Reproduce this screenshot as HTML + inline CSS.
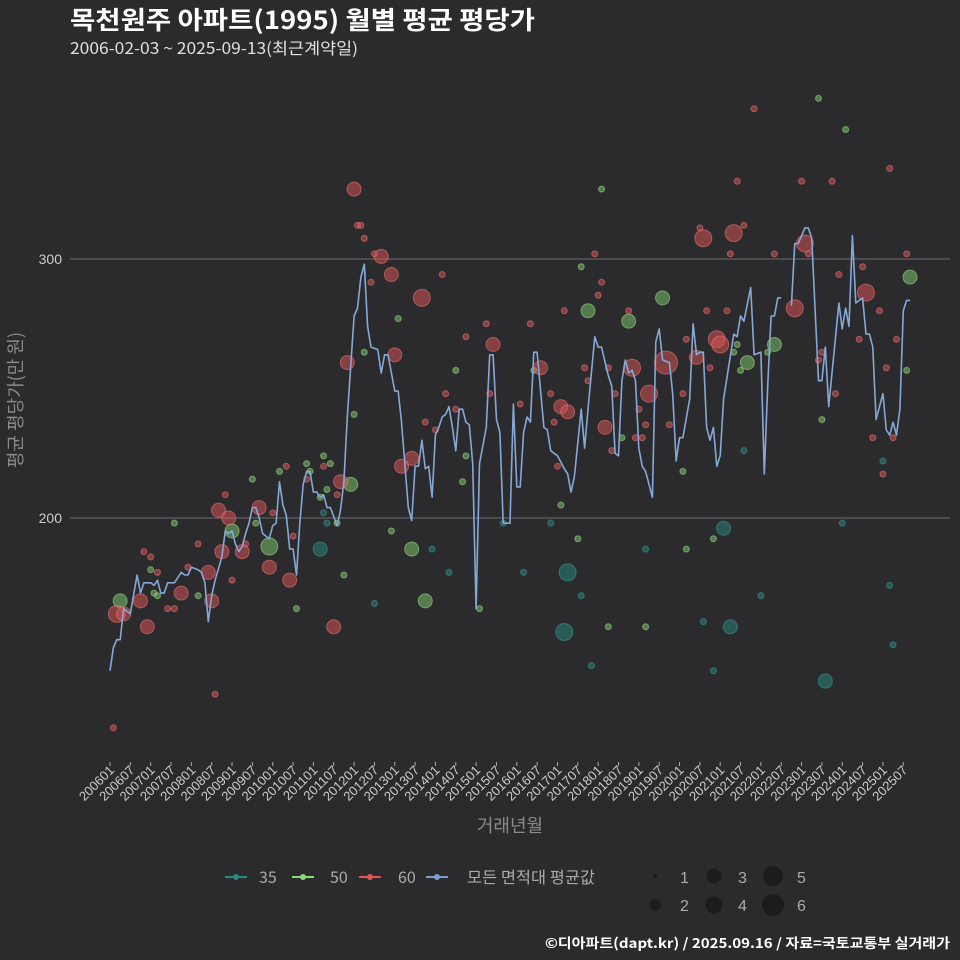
<!DOCTYPE html>
<html><head><meta charset="utf-8"><style>
html,body{margin:0;padding:0;background:#2b2b2d;}
svg{display:block;font-family:"Liberation Sans","Noto Sans CJK KR",sans-serif;}
</style></head><body>
<svg id="chart" width="960" height="960" viewBox="0 0 960 960">
<rect x="0" y="0" width="960" height="960" fill="#2b2b2d"/>
<text x="70" y="29" fill="#ffffff" font-size="25" font-weight="bold" textLength="465" lengthAdjust="spacingAndGlyphs" font-family="'Noto Sans CJK KR',sans-serif">목천원주 아파트(1995) 월별 평균 평당가</text>
<text x="70" y="54" fill="#e0e0e0" font-size="16" textLength="288" lengthAdjust="spacingAndGlyphs" font-family="'Noto Sans CJK KR',sans-serif">2006-02-03 ~ 2025-09-13(최근계약일)</text>
<g id="grid"></g>
<g id="marks"></g>
<g id="xaxis"></g>
<text transform="translate(22,400) rotate(-90)" text-anchor="middle" fill="#8a8a8a" font-size="18" font-family="'Noto Sans CJK KR',sans-serif">평균 평당가(만 원)</text>
<text x="510" y="832" text-anchor="middle" fill="#8a8a8a" font-size="18" font-family="'Noto Sans CJK KR',sans-serif">거래년월</text>
<g font-size="16" fill="#aaaaaa" font-family="'Noto Sans CJK KR',sans-serif">
 <g><line x1="225" y1="877" x2="247" y2="877" stroke="#2a8a80" stroke-width="2"/><circle cx="236" cy="877" r="3" fill="#2a8a80"/><text x="259" y="883">35</text></g>
 <g><line x1="292" y1="877" x2="314" y2="877" stroke="#8ad878" stroke-width="2"/><circle cx="303" cy="877" r="3" fill="#8ad878"/><text x="330" y="883">50</text></g>
 <g><line x1="359" y1="877" x2="381" y2="877" stroke="#e05555" stroke-width="2"/><circle cx="370" cy="877" r="3" fill="#e05555"/><text x="398" y="883">60</text></g>
 <g><line x1="426" y1="877" x2="448" y2="877" stroke="#7f9cc8" stroke-width="2"/><circle cx="437" cy="877" r="3" fill="#7f9cc8"/><text x="467" y="883" textLength="128" lengthAdjust="spacingAndGlyphs">모든 면적대 평균값</text></g>
</g>
<g font-size="16" fill="#aaaaaa">
 <circle cx="655" cy="876" r="2" fill="#1c1c1e"/><text x="680" y="883">1</text>
 <circle cx="714" cy="876" r="7.5" fill="#1c1c1e"/><text x="738" y="883">3</text>
 <circle cx="773" cy="876" r="10" fill="#1c1c1e"/><text x="797" y="883">5</text>
 <circle cx="655" cy="905" r="5.5" fill="#1c1c1e"/><text x="680" y="911">2</text>
 <circle cx="714" cy="905" r="8.5" fill="#1c1c1e"/><text x="738" y="911">4</text>
 <circle cx="773" cy="905" r="11" fill="#1c1c1e"/><text x="797" y="911">6</text>
</g>
<text x="545" y="948" fill="#ffffff" font-size="13.5" font-weight="bold" textLength="405" lengthAdjust="spacingAndGlyphs" font-family="'Noto Sans CJK KR',sans-serif">©디아파트(dapt.kr) / 2025.09.16 / 자료=국토교통부 실거래가</text>
</svg>
<script>
const avgMonth=[0,1,2,3,4,5,6,8,9,10,11,12,13,14,15,16,17,18,19,21,22,23,24,26,27,28,29,30,31,33,34,35,36,37,38,39,40,41,42,43,44,45,46,47,48,49,50,51,52,53,54,55,56,57,58,59,60,61,62,63,64,65,67,68,69,70,72,73,74,75,76,77,79,80,81,82,84,85,86,88,89,90,91,92,93,94,95,96,97,98,99,100,101,102,103,104,105,106,107,108,109,111,112,113,114,115,116,117,118,119,120,121,122,123,124,125,126,128,129,130,132,134,135,136,137,139,140,141,143,144,145,147,148,149,150,151,152,153,154,155,156,157,158,160,161,162,163,165,166,167,168,169,171,172,173,174,175,176,177,178,179,180,181,184,185,186,187,189,190,192,193,194,195,196,197,198,199,201,202,203,205,206,207,209,210,211,212,215,216,217,218,219,220,222,223,224,225,226,228,229,230,231,232,233,234,235,236];
const avgValue=[141,150,153,153,165,164,163,178,171,175,175,175,174,176,171,171,175,175,175,179,178,178,181,180,179,175,160,170,176,185,195,194,195,190,187,189,194,198,204,204,200,194,193,192,197,198,214,205,201,188,188,178,198,213,218,218,210,210,208,209,204,204,197,203,214,239,278,281,293,298,274,266,265,256,263,263,249,249,237,204,199,220,220,230,219,220,208,232,235,239,240,243,235,226,242,242,237,236,221,165,221,235,263,263,238,233,198,198,198,244,212,212,233,239,237,264,264,235,234,226,224,219,217,210,216,242,227,242,270,266,266,255,251,225,224,253,261,256,257,253,227,220,218,208,268,273,261,260,248,222,231,231,246,275,263,264,264,235,230,235,220,224,246,271,270,278,276,289,263,264,217,251,278,278,285,285,null,282,306,306,312,312,308,253,253,266,243,283,273,281,274,309,283,285,271,271,266,238,248,234,232,237,232,242,280,284,284];
const s60Month=[1,2,4,9,11,10,12,14,17,19,21,23,26,29,30,32,33,34,35,36,31,39,40,44,47,48,52,53,54,58,63,66,67,68,70,75,78,80,72,73,74,83,77,92,98,84,89,86,93,96,99,102,105,111,113,112,121,124,127,130,131,132,133,135,134,140,141,143,145,144,147,146,149,148,153,154,159,156,158,165,155,157,164,170,169,173,174,175,176,177,179,180,182,183,184,185,187,190,196,202,204,205,206,209,210,213,214,215,221,222,223,225,227,228,229,230,231,232,235];
const s60Value=[119,163,163,168,158,187,185,179,165,165,171,181,190,179,168,203,187,209,200,176,132,187,190,204,181,202,220,176,193,215,220,158,209,214,260,308,302,301,327,313,313,294,291,285,294,263,223,220,237,234,248,242,270,275,267,248,244,275,258,248,237,220,243,241,280,258,253,302,291,286,258,235,248,226,280,258,248,242,236,236,231,231,260,269,248,262,312,308,280,258,269,267,280,302,310,330,313,358,302,281,330,306,302,261,264,330,248,294,269,297,287,231,280,217,258,335,231,269,302];
const s60Size=[1,4,3,3,3,1,1,1,1,1,3,1,1,3,3,3,3,1,3,1,1,3,1,3,3,1,1,3,1,1,1,3,1,3,3,1,1,3,3,1,1,3,1,4,1,3,3,3,1,1,1,1,1,1,3,1,1,1,3,1,1,1,3,3,1,1,1,1,1,1,1,3,1,1,1,4,4,1,1,1,1,1,6,1,1,3,1,4,1,1,4,4,1,1,4,1,1,1,1,4,1,4,1,1,1,1,1,1,1,1,4,1,1,1,1,1,1,1,1];
const s50Month=[3,19,12,13,14,26,36,42,43,47,50,55,58,59,62,63,65,64,71,67,69,72,75,85,83,89,93,102,105,104,109,139,141,153,133,138,147,125,151,145,163,188,196,185,184,186,194,169,210,236,235,158,170,178,209,217];
const s50Value=[168,198,180,171,170,170,195,215,198,189,218,165,221,218,208,224,221,211,213,198,178,240,264,277,195,188,168,257,224,214,165,297,280,276,205,192,158,257,231,327,285,260,267,267,264,257,264,218,238,293,257,158,188,192,362,350];
const s50Size=[3,1,1,1,1,1,3,1,1,4,1,1,1,1,1,1,1,1,3,1,1,1,1,1,1,3,3,1,1,1,1,1,3,3,1,1,1,1,1,1,3,3,3,1,1,1,1,1,1,3,1,1,1,1,1,1];
const s35Month=[62,63,64,78,95,100,122,130,135,139,116,134,142,158,175,178,181,183,187,192,211,216,228,230,231];
const s35Value=[188,202,198,167,188,179,179,198,179,170,198,156,143,188,160,141,196,158,226,170,137,198,222,174,151];
const s35Size=[3,1,1,1,1,1,1,1,4,1,1,4,1,1,1,1,3,3,1,1,3,1,1,1,1];
const tickMonths=[0,6,12,18,24,30,36,42,48,54,60,66,72,78,84,90,96,102,108,114,120,126,132,138,144,150,156,162,168,174,180,186,192,198,204,210,216,222,228,234];
const yTicks=[200,300];

const NS='http://www.w3.org/2000/svg';
function xS(m){return 110+m*3.39;}
function yS(v){return 259+(300-v)*2.59;}
function rS(s){return [0,3,5,7,8.5,10,11.5][s];}
function mk(t,a,p){const e=document.createElementNS(NS,t);for(const k in a)e.setAttribute(k,a[k]);p.appendChild(e);return e;}
const grid=document.getElementById('grid'),marks=document.getElementById('marks'),xa=document.getElementById('xaxis');
yTicks.forEach(v=>{
 const l=mk('line',{x1:70,x2:950,y1:yS(v),y2:yS(v),stroke:'#6e6e6e','stroke-width':1},grid);
 
 
 const t=mk('text',{x:62,y:yS(v)+5,'text-anchor':'end',fill:'#cccccc','font-size':14},grid);
 
 
 t.textContent=v;
});
tickMonths.forEach(m=>{
 const x=xS(m);
 const tk=mk('line',{x1:x,x2:x,y1:762,y2:766,stroke:'#aaaaaa','stroke-width':1},xa);
 
 
 const yr=2006+Math.floor(m/12),mo=(m%12)+1;
 const t=mk('text',{transform:'translate('+(x+5)+',771) rotate(-45)','text-anchor':'end',fill:'#cccccc','font-size':13},xa);
 
 
 t.textContent=yr+(mo<10?'0':'')+mo;
});
function drawScatter(ms,vs,ss,fill,stroke,name){
 for(let i=0;i<ms.length;i++){
  const c=mk('circle',{cx:xS(ms[i]),cy:yS(vs[i]),r:rS(ss[i]),fill:fill,stroke:stroke,'stroke-width':1},marks);
  
  
 }
}
drawScatter(s35Month,s35Value,s35Size,'rgba(42,138,128,0.5)','rgba(60,160,150,0.55)','point-35');
drawScatter(s50Month,s50Value,s50Size,'rgba(130,205,110,0.5)','rgba(160,225,140,0.55)','point-50');
drawScatter(s60Month,s60Value,s60Size,'rgba(225,85,85,0.5)','rgba(240,120,120,0.55)','point-60');
let d='',pen=false;
for(let i=0;i<avgMonth.length;i++){
 if(avgValue[i]===null){pen=false;continue;}
 d+=(pen?'L':'M')+xS(avgMonth[i]).toFixed(1)+','+yS(avgValue[i]).toFixed(1);
 pen=true;
}
const p=mk('path',{d:d,fill:'none',stroke:'#86a8d8','stroke-width':1.6,'stroke-linejoin':'round'},marks);


</script>
</body></html>
